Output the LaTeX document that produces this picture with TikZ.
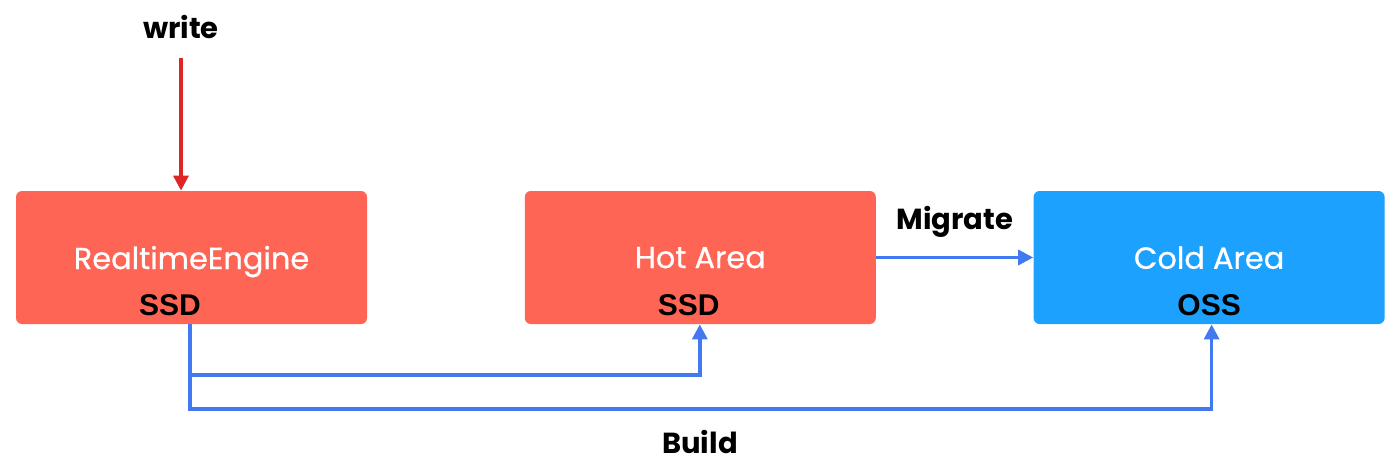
\documentclass[tikz,border=0pt]{standalone}
\usepackage{fontspec}
\setmainfont{Poppins}
\newfontfamily\areafont[FakeBold=0.7]{Poppins}
\newfontfamily\ssdfont{Liberation Sans}
\usetikzlibrary{arrows.meta,positioning}
\definecolor{hotred}{RGB}{255,101,84}
\definecolor{coldblue}{RGB}{29,161,255}
\definecolor{linkblue}{RGB}{66,120,240}
\definecolor{writered}{RGB}{222,38,38}

\begin{document}
\begin{tikzpicture}[
  x=0.5pt, y=-0.5pt,
  node distance=78.5pt,
  area/.style={rectangle, rounded corners=3pt, minimum width=175.5pt, minimum height=66.5pt, text=white, font=\areafont\fontsize{15.2}{17}\selectfont, inner sep=0pt, text depth=0pt},
  tag/.style={font=\ssdfont\bfseries\fontsize{15}{16}\selectfont, inner sep=0pt},
  lbl/.style={font=\bfseries\fontsize{14.5}{16}\selectfont, inner sep=0pt},
  barr/.style={-{Triangle[length=7.5pt, width=7.5pt]}, draw=linkblue, line width=1.7pt},
  rarr/.style={-{Triangle[length=7.5pt, width=7.5pt]}, draw=writered, line width=1.6pt}
]
\useasboundingbox (0,0) rectangle (1400,465);
\node[area, fill=hotred] (rte) at (191.5,257.5) {RealtimeEngine};
\node[area, fill=hotred, right=of rte] (hot) {Hot Area};
\node[area, fill=coldblue, right=of hot] (cold) {Cold Area};
\node[tag] (ssd1) at ([xshift=-10.75pt, yshift=9.5pt]rte.south) {SSD};
\node[tag] (ssd2) at ([xshift=-5.75pt, yshift=9.5pt]hot.south) {SSD};
\node[tag] (oss) at ([yshift=9.5pt]cold.south) {OSS};

\node[lbl] (write) at (181,27) {write};
\coordinate (wtop) at (181,58);
\draw[rarr] (wtop) -- (wtop |- rte.north);

\draw[barr] (hot.east) -- (cold.west) node[lbl, midway, above=9pt] (mig) {Migrate};

\coordinate (src) at (190,324);
\draw[barr] (src) |- ([xshift=-0.25pt]hot.south |- 0,375) -- ([xshift=-0.25pt]hot.south);
\draw[barr] (src) |- ([xshift=1.25pt]cold.south |- 0,409) -- ([xshift=1.25pt]cold.south);
\node[lbl] (build) at (700,442) {Build};
\end{tikzpicture}
\end{document}
